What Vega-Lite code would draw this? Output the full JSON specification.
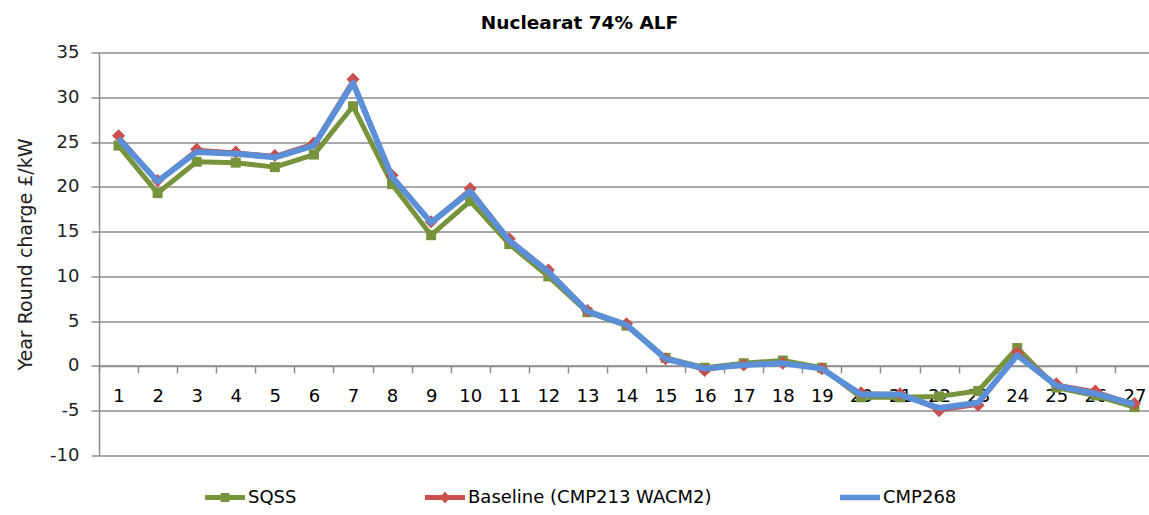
{
  "$schema": "https://vega.github.io/schema/vega-lite/v6.json",
  "width": 1055,
  "height": 403,
  "autosize": {"type": "none"},
  "padding": {"left": 99, "top": 52.5, "right": 0, "bottom": 60},
  "background": "white",
  "title": {
    "text": "Nuclearat 74% ALF",
    "font": "DejaVu Sans",
    "fontSize": 18.5,
    "fontWeight": "bold",
    "color": "#000000",
    "anchor": "middle",
    "frame": "group",
    "dx": -47,
    "offset": 11
  },
  "config": {
    "view": {"stroke": null},
    "axis": {
      "labelFont": "DejaVu Sans",
      "labelFontSize": 18,
      "labelColor": "#222222",
      "titleFont": "DejaVu Sans",
      "titleFontSize": 19,
      "titleFontWeight": "normal",
      "titleColor": "#222222",
      "domainColor": "#8c8c8c",
      "domainWidth": 1.5,
      "tickColor": "#8c8c8c",
      "tickWidth": 1.5,
      "gridColor": "#8c8c8c",
      "gridWidth": 1.5
    }
  },
  "data": {
    "values": [
      {"x": 1, "SQSS": 24.6, "Baseline": 25.7, "CMP268": 25.4},
      {"x": 2, "SQSS": 19.3, "Baseline": 20.7, "CMP268": 20.6},
      {"x": 3, "SQSS": 22.8, "Baseline": 24.2, "CMP268": 23.9},
      {"x": 4, "SQSS": 22.7, "Baseline": 23.9, "CMP268": 23.7},
      {"x": 5, "SQSS": 22.2, "Baseline": 23.5, "CMP268": 23.3},
      {"x": 6, "SQSS": 23.6, "Baseline": 24.9, "CMP268": 24.6},
      {"x": 7, "SQSS": 29.0, "Baseline": 32.0, "CMP268": 31.6},
      {"x": 8, "SQSS": 20.3, "Baseline": 21.3, "CMP268": 21.1},
      {"x": 9, "SQSS": 14.6, "Baseline": 16.1, "CMP268": 16.0},
      {"x": 10, "SQSS": 18.4, "Baseline": 19.8, "CMP268": 19.5},
      {"x": 11, "SQSS": 13.6, "Baseline": 14.2, "CMP268": 14.0},
      {"x": 12, "SQSS": 10.0, "Baseline": 10.7, "CMP268": 10.5},
      {"x": 13, "SQSS": 6.0, "Baseline": 6.2, "CMP268": 6.1},
      {"x": 14, "SQSS": 4.5, "Baseline": 4.7, "CMP268": 4.6},
      {"x": 15, "SQSS": 0.9, "Baseline": 0.8, "CMP268": 0.8},
      {"x": 16, "SQSS": -0.2, "Baseline": -0.5, "CMP268": -0.3},
      {"x": 17, "SQSS": 0.3, "Baseline": 0.1, "CMP268": 0.1},
      {"x": 18, "SQSS": 0.6, "Baseline": 0.3, "CMP268": 0.3},
      {"x": 19, "SQSS": -0.2, "Baseline": -0.3, "CMP268": -0.3},
      {"x": 20, "SQSS": -3.5, "Baseline": -3.0, "CMP268": -3.2},
      {"x": 21, "SQSS": -3.5, "Baseline": -3.1, "CMP268": -3.2},
      {"x": 22, "SQSS": -3.4, "Baseline": -5.0, "CMP268": -4.7},
      {"x": 23, "SQSS": -2.8, "Baseline": -4.4, "CMP268": -4.1},
      {"x": 24, "SQSS": 2.0, "Baseline": 1.5, "CMP268": 1.2},
      {"x": 25, "SQSS": -2.4, "Baseline": -2.0, "CMP268": -2.2},
      {"x": 26, "SQSS": -3.3, "Baseline": -2.8, "CMP268": -3.1},
      {"x": 27, "SQSS": -4.6, "Baseline": -4.2, "CMP268": -4.3}
    ]
  },
  "encoding": {
    "x": {
      "field": "x",
      "type": "ordinal",
      "scale": {"paddingInner": 0, "paddingOuter": 0},
      "axis": {
        "title": null,
        "labelAngle": 0,
        "grid": false,
        "offset": -89.6,
        "tickBand": "extent",
        "tickSize": 7,
        "labelPadding": 15,
        "labelColor": "#000000"
      }
    }
  },
  "layer": [
    {
      "mark": {"type": "line", "strokeWidth": 5, "strokeJoin": "round"},
      "encoding": {
        "y": {
          "field": "SQSS",
          "type": "quantitative",
          "scale": {"domain": [-10, 35], "nice": false, "zero": false},
          "axis": {
            "title": "Year Round charge £/kW",
            "values": [-10, -5, 0, 5, 10, 15, 20, 25, 30, 35],
            "labelExpr": "replace(datum.label, '−', '-')",
            "grid": true,
            "tickSize": 8,
            "labelPadding": 12,
            "titlePadding": 14
          }
        },
        "color": {
          "datum": "SQSS",
          "type": "nominal",
          "scale": {
            "domain": ["SQSS", "Baseline (CMP213 WACM2)", "CMP268"],
            "range": ["#77933C", "#C9504D", "#5B8FD8"]
          },
          "legend": {
            "title": null,
            "orient": "none",
            "legendX": 106,
            "legendY": 425,
            "direction": "horizontal",
            "symbolSize": 1600,
            "columnPadding": 128,
            "labelFont": "DejaVu Sans",
            "labelFontSize": 18,
            "labelColor": "#000000",
            "labelOffset": 3,
            "labelLimit": 400,
            "encode": {
              "symbols": {
                "update": {
                  "shape": {"signal": "datum.value === 'SQSS' ? 'M-1,-0.12H1V0.12H-1Z M-0.22,-0.22H0.22V0.22H-0.22Z' : datum.value === 'CMP268' ? 'M-1,-0.14H1V0.14H-1Z' : 'M-1,-0.12H1V0.12H-1Z M0,-0.3L0.25,0L0,0.3L-0.25,0Z'"},
                  "fill": {"signal": "datum.value === 'SQSS' ? '#77933C' : datum.value === 'CMP268' ? '#5B8FD8' : '#C9504D'"},
                  "stroke": {"value": "transparent"},
                  "strokeWidth": {"value": 0},
                  "opacity": {"value": 1},
                  "fillOpacity": {"value": 1}
                }
              }
            }
          }
        }
      }
    },
    {
      "mark": {"type": "point", "shape": "square", "filled": true, "size": 100, "opacity": 1},
      "encoding": {
        "y": {"field": "SQSS", "type": "quantitative"},
        "color": {"datum": "SQSS", "type": "nominal"}
      }
    },
    {
      "mark": {"type": "line", "strokeWidth": 3, "strokeJoin": "round"},
      "encoding": {
        "y": {"field": "Baseline", "type": "quantitative"},
        "color": {"datum": "Baseline (CMP213 WACM2)", "type": "nominal"}
      }
    },
    {
      "mark": {"type": "point", "shape": "diamond", "filled": true, "size": 170, "opacity": 1},
      "encoding": {
        "y": {"field": "Baseline", "type": "quantitative"},
        "color": {"datum": "Baseline (CMP213 WACM2)", "type": "nominal"}
      }
    },
    {
      "mark": {"type": "line", "strokeWidth": 6, "strokeJoin": "round"},
      "encoding": {
        "y": {"field": "CMP268", "type": "quantitative"},
        "color": {"datum": "CMP268", "type": "nominal"}
      }
    }
  ]
}
